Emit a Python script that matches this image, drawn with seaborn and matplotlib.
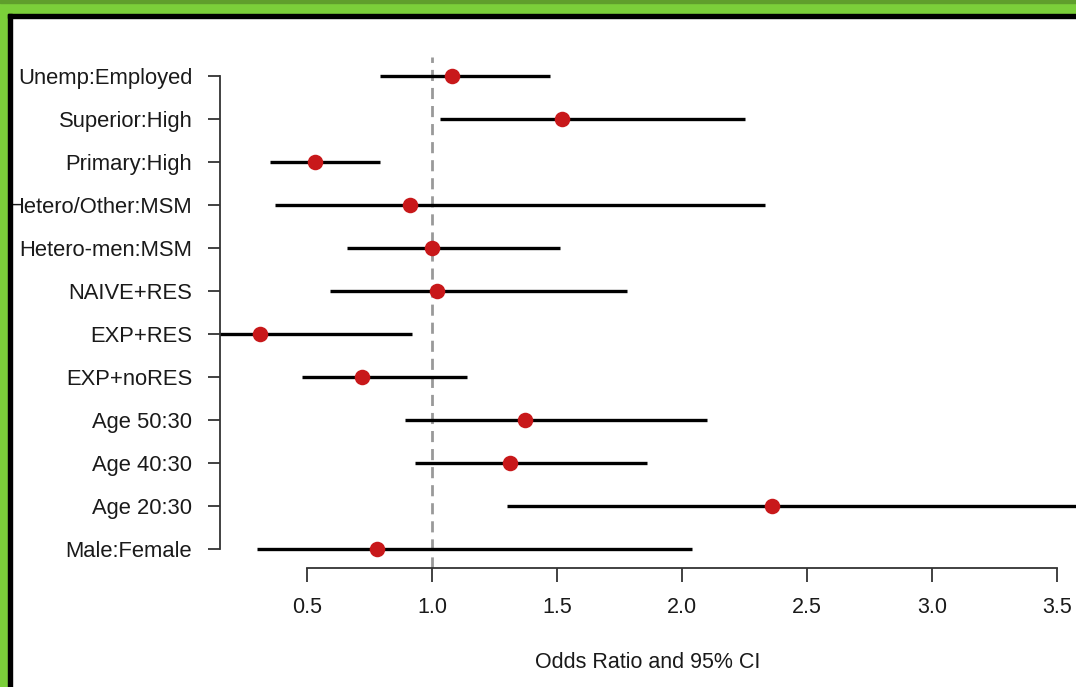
import numpy as np
import pandas as pd
import matplotlib
matplotlib.use("Agg")
import matplotlib.pyplot as plt
from matplotlib.patches import Rectangle
import seaborn as sns

# values (bottom row first)
labels = ["Male:Female", "Age 20:30", "Age 40:30", "Age 50:30", "EXP+noRES",
          "EXP+RES", "NAIVE+RES", "Hetero-men:MSM", "Hetero/Other:MSM",
          "Primary:High", "Superior:High", "Unemp:Employed"]
odds = [0.78, 2.36, 1.31, 1.37, 0.72, 0.31, 1.02, 1.00, 0.91, 0.53, 1.52, 1.08]
ci_low = [0.30, 1.30, 0.93, 0.89, 0.48, 0.11, 0.59, 0.66, 0.37, 0.35, 1.03, 0.79]
ci_high = [2.04, 3.90, 1.86, 2.10, 1.14, 0.92, 1.78, 1.51, 2.33, 0.79, 2.25, 1.47]
xticks = [0.5, 1.0, 1.5, 2.0, 2.5, 3.0, 3.5]

df = pd.DataFrame({"label": labels, "odds": odds, "lo": ci_low, "hi": ci_high})
df["pos"] = np.arange(len(df))

sns.set_theme(style="white")
plt.rcParams["font.family"] = ["Liberation Sans", "DejaVu Sans"]

fig = plt.figure(figsize=(10.76, 6.87), dpi=100)
W, H = 1076, 687
ax = fig.add_axes([220 / W, (H - 568) / H, 856 / W, 511 / H])

ax.axvline(1.0, color="#999999", lw=2, ls=(0, (4, 2.5)), zorder=1)
ax.hlines(df["pos"], df["lo"], df["hi"], color="black", lw=2.4, zorder=2)
sns.scatterplot(data=df, x="odds", y="pos", ax=ax, color="#c8181a", s=125,
                edgecolor="#c8181a", linewidth=0, zorder=3, legend=False)

ax.set_xlim(0.152, 3.576)
ax.set_ylim(-0.44, 11.44)
ax.set_yticks(df["pos"])
ax.set_yticklabels(df["label"])
ax.set_xticks(xticks)
ax.set_xticklabels([f"{t:.1f}" for t in xticks])

for s in ["top", "right"]:
    ax.spines[s].set_visible(False)
ax.spines["left"].set_bounds(0, len(df) - 1)
ax.spines["bottom"].set_bounds(xticks[0], xticks[-1])
for s in ["left", "bottom"]:
    ax.spines[s].set_color("#333333")
    ax.spines[s].set_linewidth(1.3)

ax.tick_params(axis="y", left=True, length=9, width=1.3, color="#333333",
               pad=11, labelsize=15.8, labelcolor="#1a1a1a")
ax.tick_params(axis="x", bottom=True, length=10, width=1.3, color="#333333",
               pad=11, labelsize=15.5, labelcolor="#1a1a1a")
ax.set_xlabel("Odds Ratio and 95% CI", fontsize=15.5, color="#1a1a1a", labelpad=24)
ax.set_ylabel("")

# green / black frame of the screenshot
fig.patches.append(Rectangle((0, 1 - 14 / H), 1, 14 / H, transform=fig.transFigure,
                             color="#7bcf3a", zorder=10))
fig.patches.append(Rectangle((0, 1 - 3 / H), 1, 3 / H, transform=fig.transFigure,
                             color="#5f9e2c", zorder=11))
fig.patches.append(Rectangle((0, 0), 8 / W, 1, transform=fig.transFigure,
                             color="#7bcf3a", zorder=10))
fig.patches.append(Rectangle((8 / W, 0), 4 / W, 1 - 14 / H, transform=fig.transFigure,
                             color="black", zorder=10))
fig.patches.append(Rectangle((8 / W, 1 - 18 / H), 1, 4 / H, transform=fig.transFigure,
                             color="black", zorder=10))

fig.savefig("out.png", dpi=100)
